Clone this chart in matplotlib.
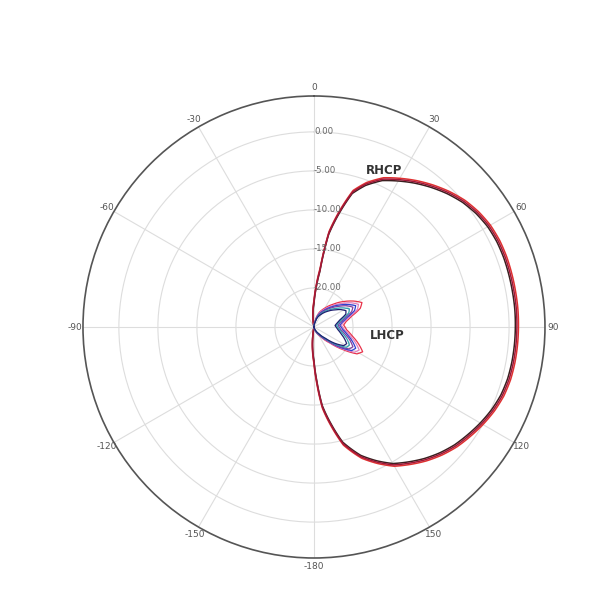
import numpy as np
import matplotlib
matplotlib.use("Agg")
import matplotlib.pyplot as plt

# ---- data (dB vs angle in degrees) ----
theta_ticks = [0, 30, 60, 90, 120, 150, 180, 210, 240, 270, 300, 330]
theta_labels = ["0", "30", "60", "90", "120", "150", "-180", "-150", "-120", "-90", "-60", "-30"]
r_ticks = [-20, -15, -10, -5, 0]
r_labels = ["-20.00", "-15.00", "-10.00", "-5.00", "0.00"]

rhcp_theta = [-10, 0, 3, 6, 9, 12, 16, 20, 25, 30, 35, 40, 45, 50, 55, 60, 65, 70, 75, 80, 85, 90,
              95, 100, 105, 110, 115, 120, 125, 130, 135, 140, 145, 150, 155, 160, 166, 170, 174, 177, 180, 190]
rhcp_1 = [-25, -21.8, -19.9, -17.7, -12.8, -10.3, -7.0, -5.5, -4.1, -3.2, -2.3, -1.45, -0.65, 0.05, 0.55, 0.9,
          1.05, 1.08, 1.05, 1.03, 1.03, 1.0, 0.98, 0.95, 0.88, 0.68, 0.3, -0.2, -0.75, -1.3, -2.0, -2.8,
          -3.7, -4.6, -5.9, -7.3, -9.6, -12.2, -14.7, -17.9, -20.5, -25]
rhcp_2 = [-25, -21.6, -19.7, -17.4, -12.6, -10.1, -6.8, -5.3, -3.9, -3.0, -2.1, -1.25, -0.45, 0.25, 0.75, 1.1,
          1.25, 1.28, 1.25, 1.23, 1.23, 1.2, 1.18, 1.15, 1.08, 0.88, 0.5, 0.0, -0.55, -1.1, -1.8, -2.6,
          -3.5, -4.4, -5.7, -7.1, -9.4, -12.0, -14.5, -17.6, -20.3, -25]
rhcp_3 = [-25, -22.0, -20.1, -17.9, -13.0, -10.5, -7.2, -5.7, -4.3, -3.4, -2.5, -1.65, -0.85, -0.15, 0.35, 0.7,
          0.85, 0.88, 0.85, 0.83, 0.83, 0.8, 0.78, 0.75, 0.68, 0.48, 0.1, -0.4, -0.95, -1.5, -2.2, -3.0,
          -3.9, -4.8, -6.1, -7.5, -9.8, -12.4, -14.9, -18.1, -20.7, -25]

lhcp_theta = [-5, 0, 10, 20, 30, 40, 50, 57, 63, 68, 74, 80, 86, 95, 103, 110, 117, 122, 128, 135, 145, 160, 180]
lhcp_a = [-25, -24.8, -24.2, -23.0, -22.2, -21.2, -19.9, -18.9, -18.1, -18.6, -20.0, -20.8, -21.2, -20.8, -20.0, -19.0, -18.0, -18.5, -20.3, -22.1, -23.5, -24.4, -25]
lhcp_b = [-25, -24.8, -24.3, -23.1, -22.4, -21.5, -20.3, -19.3, -18.6, -19.0, -20.3, -21.1, -21.5, -21.1, -20.3, -19.4, -18.5, -18.9, -20.6, -22.3, -23.6, -24.5, -25]
lhcp_c = [-25, -24.9, -24.4, -23.3, -22.6, -21.7, -20.6, -19.7, -19.0, -19.4, -20.6, -21.3, -21.7, -21.3, -20.6, -19.8, -19.0, -19.3, -20.8, -22.5, -23.7, -24.5, -25]
lhcp_d = [-25, -24.9, -24.4, -23.4, -22.7, -21.9, -20.9, -20.0, -19.4, -19.8, -20.9, -21.6, -21.9, -21.6, -20.9, -20.1, -19.4, -19.7, -21.0, -22.6, -23.8, -24.6, -25]
lhcp_e = [-25, -24.9, -24.5, -23.6, -22.9, -22.2, -21.3, -20.5, -19.9, -20.2, -21.2, -21.8, -22.1, -21.8, -21.2, -20.5, -19.9, -20.1, -21.3, -22.8, -23.9, -24.6, -25]
lhcp_f = [-25, -24.9, -24.5, -23.7, -23.1, -22.4, -21.6, -20.9, -20.4, -20.6, -21.5, -22.0, -22.3, -22.0, -21.5, -20.9, -20.3, -20.5, -21.6, -23.0, -24.0, -24.7, -25]

r_min, r_max = -25, 4.6

fig = plt.figure(figsize=(6, 6), dpi=100)
ax = fig.add_axes([0.1383, 0.07, 0.77, 0.77], projection="polar")
ax.set_theta_zero_location("N")
ax.set_theta_direction(-1)
ax.set_rlim(r_min, r_max)

# grid
ax.set_xticks(np.deg2rad(theta_ticks))
ax.set_xticklabels(theta_labels, fontsize=6.5, color="#555555")
ax.set_xticks(np.deg2rad(np.arange(0, 360, 5)), minor=True)
ax.tick_params(axis="x", which="major", direction="in", length=8, width=1.0, color="#555555", pad=-1)
ax.tick_params(axis="x", which="minor", direction="in", length=4, width=0.8, color="#555555")
ax.set_yticks(r_ticks)
ax.set_yticklabels([])
ax.grid(True, color="#dddddd", linewidth=0.8)
ax.spines["polar"].set_color("#555555")
ax.spines["polar"].set_linewidth(1.2)

for rv, lab in zip(r_ticks, r_labels):
    ax.text(0, rv, lab, fontsize=6.2, color="#666666", ha="left", va="center")


def polar_line(th, vals, color, lw):
    ln, = ax.plot(np.deg2rad(th), vals, color=color, linewidth=lw, solid_joinstyle="round")
    ln.get_path()._interpolation_steps = 40
    return ln


# RHCP traces
for vals, c in [(rhcp_3, "#3a2020"), (rhcp_2, "#e03030"), (rhcp_1, "#a01838")]:
    polar_line(rhcp_theta, vals, c, 1.1)

# LHCP traces
for vals, c in [(lhcp_a, "#e8324a"), (lhcp_b, "#e080c0"), (lhcp_c, "#3040d0"),
                (lhcp_d, "#8040a0"), (lhcp_e, "#30a0b0"), (lhcp_f, "#202070")]:
    polar_line(lhcp_theta, vals, c, 0.9)

ax.text(np.deg2rad(24.0), -3.0, "RHCP", fontsize=8.5, fontweight="bold", color="#333333",
        ha="center", va="center")
ax.text(np.deg2rad(97.0), -15.6, "LHCP", fontsize=8.5, fontweight="bold", color="#333333",
        ha="center", va="center")

fig.savefig("out.png", dpi=100, facecolor="white")
